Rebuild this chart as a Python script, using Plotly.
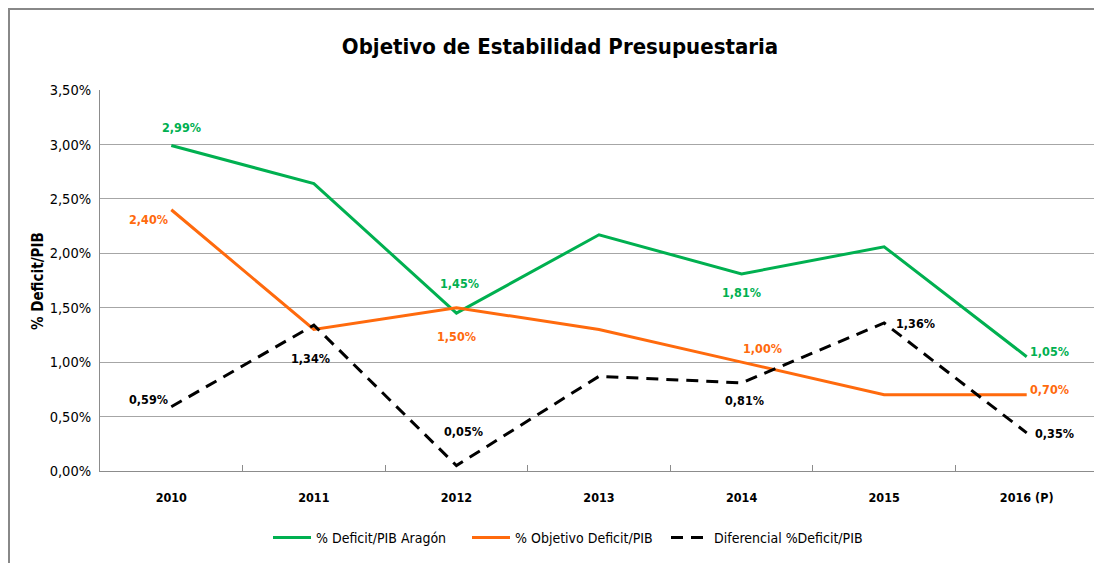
import plotly.graph_objects as go

years = ["2010", "2011", "2012", "2013", "2014", "2015", "2016 (P)"]
deficit_aragon = [2.99, 2.64, 1.45, 2.17, 1.81, 2.06, 1.05]
objetivo = [2.40, 1.30, 1.50, 1.30, 1.00, 0.70, 0.70]
diferencial = [0.59, 1.34, 0.05, 0.87, 0.81, 1.36, 0.35]

# which points carry a value label, and label offsets in pixels (dx, dy; dy>0 = up)
labels_green = {0: (10, 18), 2: (3, 30), 4: (0, -19), 6: (23, 5)}
labels_orange = {0: (-23, -10), 2: (0, -29), 4: (21, 14), 6: (23, 5)}
labels_black = {0: (-23, 7), 1: (-3, -33), 2: (7, 34), 4: (3, -18), 5: (31, -1), 6: (28, -1)}

FONT = "DejaVu Sans Condensed, DejaVu Sans, sans-serif"
GREEN = "#00B050"
ORANGE = "#FF6A0D"
BLACK = "#000000"

# page body has an 8px margin; compensate so the chart lands where the reference has it
OFF = 8
PLOT_L, PLOT_R, PLOT_T, PLOT_B = 100, 1098, 90, 471
PW, PH = PLOT_R - PLOT_L, PLOT_B - PLOT_T
FIG_W, FIG_H = 1102 - OFF, 563 - OFF


def fmt(v):
    return f"{v:.2f}".replace(".", ",") + "%"


def px_x(px):
    return (px - PLOT_L) / PW


def px_y(py):
    return (PLOT_B - py) / PH


fig = go.Figure()
series = [
    ("% Deficit/PIB Aragón", deficit_aragon, GREEN, "solid", labels_green),
    ("% Objetivo Deficit/PIB", objetivo, ORANGE, "solid", labels_orange),
    ("Diferencial %Deficit/PIB", diferencial, BLACK, "12px,8px", labels_black),
]

annotations = []
for name, vals, color, dash, labs in series:
    fig.add_trace(go.Scatter(
        x=years, y=vals, name=name, mode="lines",
        line=dict(color=color, width=3, dash=dash), cliponaxis=False,
    ))
    for i, (dx, dy) in labs.items():
        annotations.append(dict(
            x=i, y=vals[i], xref="x", yref="y", text=fmt(vals[i]), showarrow=False,
            xanchor="center", yanchor="middle", xshift=dx, yshift=dy,
            font=dict(family=FONT, size=12.5, color=color, weight="bold"),
        ))

annotations.append(dict(
    text="<b>% Deficit/PIB</b>", textangle=-90, xref="paper", yref="paper",
    x=px_x(38), y=px_y(281), xanchor="center", yanchor="middle", showarrow=False,
    font=dict(family=FONT, size=15, color="#000000"),
))

fig.update_layout(
    width=FIG_W, height=FIG_H,
    margin=dict(l=PLOT_L - OFF, r=FIG_W - (PLOT_R - OFF), t=PLOT_T - OFF, b=FIG_H - (PLOT_B - OFF)),
    paper_bgcolor="white", plot_bgcolor="white",
    separators=",.",
    font=dict(family=FONT, size=14, color="#000000"),
    title=dict(text="<b>Objetivo de Estabilidad Presupuestaria</b>",
               x=(560 - OFF) / FIG_W, xanchor="center",
               y=1 - (46 - OFF) / FIG_H, yanchor="middle",
               font=dict(family=FONT, size=22, color="#000000")),
    showlegend=True,
    legend=dict(orientation="h", x=px_x(268), xanchor="left", y=px_y(538), yanchor="middle",
                font=dict(family=FONT, size=14, color="#000000"), itemwidth=38,
                entrywidth=146, entrywidthmode="pixels", traceorder="normal"),
    hovermode=False,
    xaxis=dict(
        type="category", showgrid=False, showline=True, linecolor="#8c8c8c", linewidth=1,
        ticks="inside", tickson="boundaries", ticklen=6, tickcolor="#8c8c8c",
        ticklabelstandoff=15,
        tickfont=dict(family=FONT, size=12.5, color="#000000", weight="bold"),
        range=[-0.5, 6.5], fixedrange=True,
    ),
    yaxis=dict(
        range=[0, 3.5], dtick=0.5, tick0=0, tickformat=".2f", ticksuffix="%",
        showgrid=True, gridcolor="#a6a6a6", gridwidth=1,
        showline=True, linecolor="#8c8c8c", linewidth=1, ticks="", zeroline=False,
        ticklabelstandoff=5,
        tickfont=dict(family=FONT, size=14.5, color="#000000"), fixedrange=True,
    ),
    annotations=annotations,
    shapes=[dict(
        type="rect", xref="paper", yref="paper",
        x0=px_x(9), x1=px_x(1110), y0=px_y(580), y1=px_y(9),
        line=dict(color="#888888", width=2), fillcolor="rgba(0,0,0,0)", layer="below",
    )],
)

fig.write_html("out.html")
